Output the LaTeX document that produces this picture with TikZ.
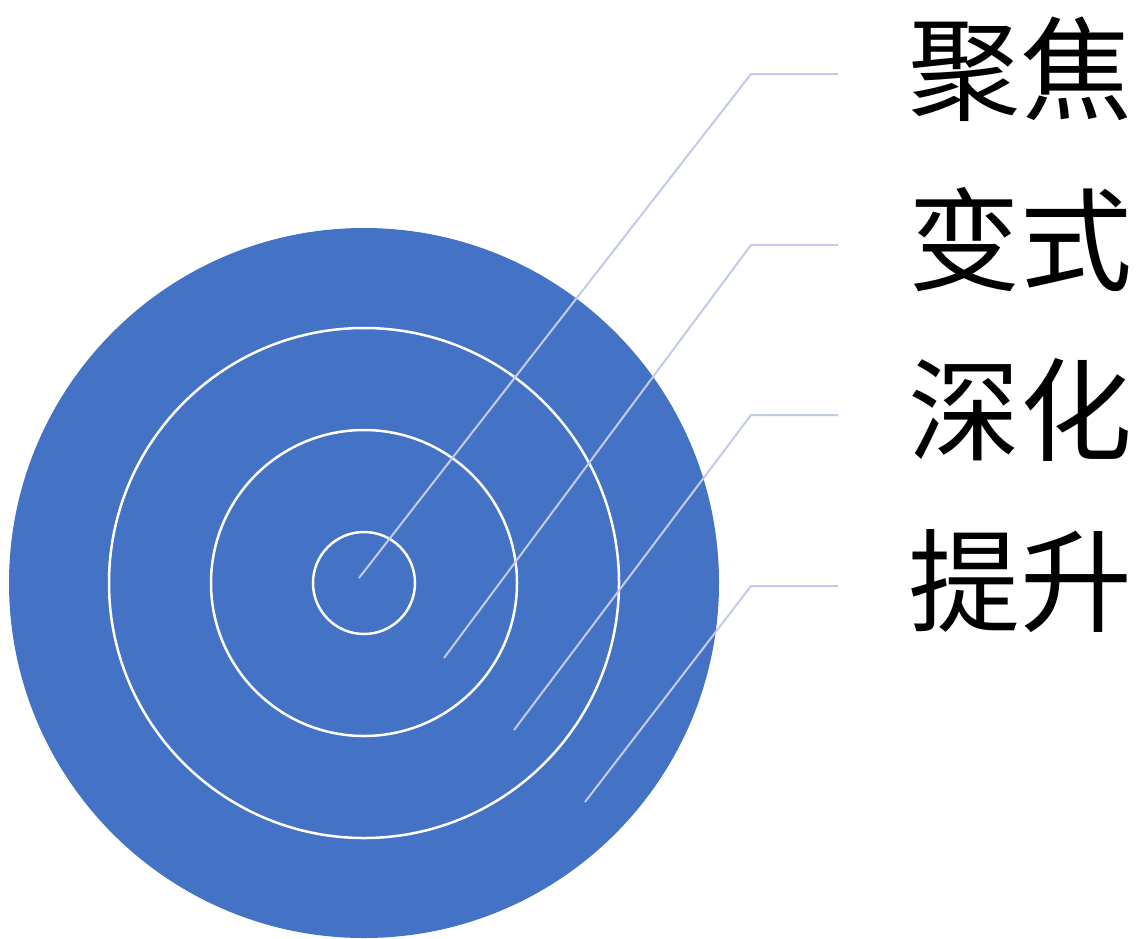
\documentclass[tikz,border=0pt]{standalone}
\usepackage{fontspec}
\newfontfamily\cjk{Noto Sans CJK SC}
\definecolor{ringblue}{RGB}{68,114,196}
\definecolor{leadgray}{RGB}{196,203,230}
\begin{document}
\begin{tikzpicture}[x=1pt,y=-1pt]
\tikzset{ring/.style={draw=white,line width=2.5pt},
  lead/.style={draw=leadgray,line width=2pt},
  word/.style={anchor=base west,inner sep=0pt,font=\cjk\fontsize{112}{112}\selectfont}}
\useasboundingbox (0,0) rectangle (1142,938);
\fill[ringblue] (364,583) circle (355);
\foreach \r in {255,153,51} \draw[ring] (364,583) circle (\r);
% leader lines: inner end, knee, outer end
\foreach \i/\sx/\sy/\ky/\w in {1/359/578/74/聚焦,2/444/658/245/变式,3/514/730/415/深化,4/585/802/586/提升}{
  \coordinate (s\i) at (\sx,\sy);
  \coordinate (k\i) at (751,\ky);
  \coordinate (e\i) at (838,\ky);
  \node[word] (w\i) at (908,\ky+37) {\w};
  \draw[lead] (s\i) -- (k\i) -- (e\i);
}
\end{tikzpicture}
\end{document}
